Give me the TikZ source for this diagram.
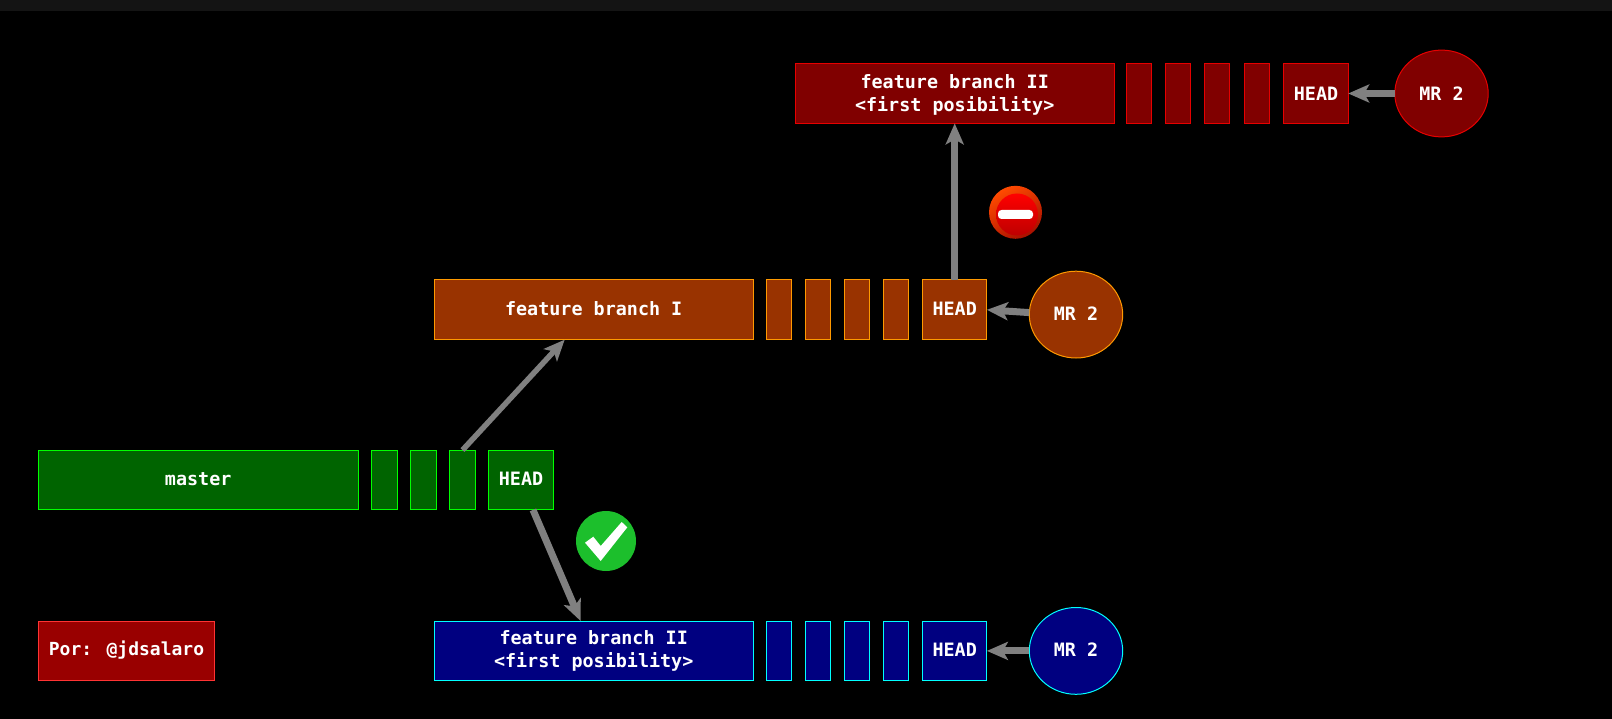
\documentclass[tikz,border=0pt]{standalone}
\usepackage{fontspec}
\setmainfont{DejaVu Sans Mono}[BoldFont={DejaVu Sans Mono Bold}]
\usetikzlibrary{shapes.geometric,arrows.meta,calc}
\definecolor{strip}{HTML}{141414}
\definecolor{gfill}{HTML}{006400}\definecolor{gline}{HTML}{00FF00}
\definecolor{ofill}{HTML}{993300}\definecolor{oline}{HTML}{FF9900}
\definecolor{rfill}{HTML}{800000}\definecolor{rline}{HTML}{E60000}
\definecolor{bfill}{HTML}{000080}\definecolor{bline}{HTML}{00FFFF}
\definecolor{pfill}{HTML}{990000}\definecolor{pline}{HTML}{FF3333}
\definecolor{arrowgray}{HTML}{808080}
\definecolor{okgreen}{HTML}{1CBF2C}
\definecolor{ringtop}{HTML}{FF4A00}
\definecolor{ringbot}{HTML}{A81000}
\definecolor{balltop}{HTML}{FF0000}
\definecolor{ballbot}{HTML}{BE0000}
\newcommand{\lowerlines}{\rule{0pt}{16.5pt}}
\tikzset{
  x=1pt,y=-1pt,
  cell/.style={draw,rectangle,line width=1pt,inner sep=0pt,outer sep=0pt,text=white,align=center,
    font=\fontsize{18.4}{22.4}\selectfont\bfseries,minimum height=59.8pt},
  bubble/.style={draw,ellipse,line width=1pt,inner sep=0pt,outer sep=0pt,text=white,
    font=\fontsize{18.4}{22.4}\selectfont\bfseries,minimum width=93.4pt,minimum height=86.8pt},
  oneline/.style={text depth=1.6pt},
  gcell/.style={cell,fill=gfill,draw=gline},
  ocell/.style={cell,fill=ofill,draw=oline},
  rcell/.style={cell,fill=rfill,draw=rline},
  bcell/.style={cell,fill=bfill,draw=bline},
  wide/.style={minimum width=319pt},
  widemaster/.style={minimum width=320pt},
  thin/.style={minimum width=24.9pt},
  thinmaster/.style={minimum width=25.7pt},
  headcell/.style={minimum width=64.4pt},
  link/.style={draw=arrowgray,line width=7pt,-{Stealth[length=21pt,width=18pt,inset=5pt,fill=arrowgray]}},
  slimlink/.style={link,line width=5.5pt},
}
\begin{document}
\begin{tikzpicture}
\useasboundingbox (0,0) rectangle (1612,719);
\fill[black] (0,0) rectangle (1612,719);
\fill[strip] (0,0) rectangle (1612,11);

% top row
\node[rcell,wide] (topbar) at (954.7,93.5) {\lowerlines feature branch II\\<first posibility>};
\node[rcell,thin] (t1) at (1139.3,93.5) {};
\node[rcell,thin] (t2) at (1178.3,93.5) {};
\node[rcell,thin] (t3) at (1217.3,93.5) {};
\node[rcell,thin] (t4) at (1256.8,93.5) {};
\node[rcell,headcell] (thead) at (1316,93.5) {HEAD};
\node[bubble,fill=rfill,draw=rline] (tmr) at (1441.5,93.5) {MR 2};

% middle row
\node[ocell,wide,oneline] (midbar) at (593.7,309.8) {feature branch I};
\node[ocell,thin] (m1) at (779,309.8) {};
\node[ocell,thin] (m2) at (818,309.8) {};
\node[ocell,thin] (m3) at (857,309.8) {};
\node[ocell,thin] (m4) at (896,309.8) {};
\node[ocell,headcell,oneline] (mhead) at (954.7,309.8) {HEAD};
\node[bubble,fill=ofill,draw=oline,oneline] (mmr) at (1076,314.6) {MR 2};

% master row
\node[gcell,widemaster,oneline] (master) at (198.2,480) {master};
\node[gcell,thinmaster] (g1) at (384.5,480) {};
\node[gcell,thinmaster] (g2) at (423.5,480) {};
\node[gcell,thinmaster] (g3) at (462.5,480) {};
\node[gcell,headcell,oneline] (ghead) at (521,480) {HEAD};

% bottom row
\node[bcell,wide] (botbar) at (593.7,650.9) {feature branch II\\<first posibility>};
\node[bcell,thin] (b1) at (779,650.9) {};
\node[bcell,thin] (b2) at (818,650.9) {};
\node[bcell,thin] (b3) at (857,650.9) {};
\node[bcell,thin] (b4) at (896,650.9) {};
\node[bcell,headcell,oneline] (bhead) at (954.7,650.9) {HEAD};
\node[bubble,fill=bfill,draw=bline,oneline] (bmr) at (1076,650.9) {MR 2};

% author
\node[cell,fill=pfill,draw=pline,minimum width=175.4pt,font=\fontsize{18}{22}\selectfont\bfseries,text depth=5.5pt] (author) at (126.5,650.9) {Por: @jdsalaro};

% connectors
\draw[link] (tmr.west) -- (thead.east);
\draw[link] ($(mmr.west)+(0,-2)$) -- (mhead.east);
\draw[link] (bmr.west) -- (bhead.east);
\draw[link] (mhead.north) -- (topbar.south);
\draw[slimlink] (g3.north) -- ($(midbar.south west)!0.409!(midbar.south east)$);
\draw[link] ($(ghead.south)+(12,0)$) -- ($(botbar.north west)!0.459!(botbar.north east)$);

% check badge
\node[circle,fill=okgreen,inner sep=0pt,minimum size=60pt] (okbadge) at (606,541) {};
\fill[white] (585,542.7) -- (593.3,536.7) -- (600.7,546) -- (621.7,522) -- (627.3,527.3) -- (600.7,561) -- cycle;

% no-entry badge
\node[circle,inner sep=0pt,minimum size=53pt,top color=ringtop,bottom color=ringbot,shading angle=30] (stopouter) at (1015.5,212.3) {};
\node[circle,inner sep=0pt,minimum size=42pt,top color=balltop,bottom color=ballbot] (stopinner) at (1017,214.5) {};
\fill[white,rounded corners=3.5pt] (998,210) rectangle (1033,219);
\end{tikzpicture}
\end{document}
